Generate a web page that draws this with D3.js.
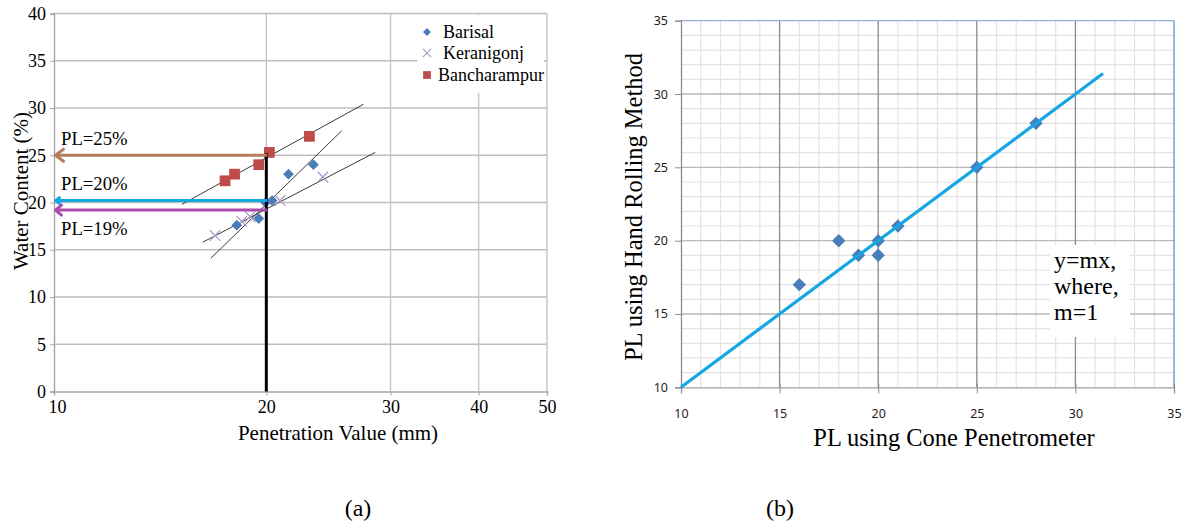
<!DOCTYPE html>
<html><head><meta charset="utf-8">
<script src="https://cdn.jsdelivr.net/npm/d3@7"></script>
<style>body{margin:0;background:#fff}svg{display:block}</style>
</head><body>
<svg id="c" width="1187" height="524"></svg>
<script>
// ---------- Data: chart (a) ----------
const xTicksA = [10, 20, 30, 40, 50];
const yTicksA = [0, 5, 10, 15, 20, 25, 30, 35, 40];
const barisal = [[18.16,17.6],[19.51,18.3],[19.95,20.0],[20.38,20.2],[21.5,23.0],[23.32,24.0]];
const keranigonj = [[16.92,16.5],[18.46,18.0],[18.97,18.5],[20.92,20.2],[24.05,22.7]];
const bancharampur = [[17.48,22.3],[18.03,23.0],[19.51,24.0],[20.2,25.3],[23.02,27.0]];
const trendBancharampur = [[15.18,19.8],[27.46,30.4]];
const trendBarisal = [[16.69,14.1],[25.59,27.6]];
const trendKeranigonj = [[16.25,15.8],[28.53,25.3]];
const plLines = [{label:"PL=25%", pl:25.0}, {label:"PL=20%", pl:20.2}, {label:"PL=19%", pl:19.2}];
const plCone = 20;
const legendNames = ["Barisal","Keranigonj","Bancharampur"];
// ---------- Data: chart (b) ----------
const ticksB = [10, 15, 20, 25, 30, 35];
const coneVals = [16, 18, 19, 20, 20, 21, 25, 28];
const handVals = [17, 20, 19, 20, 19, 21, 25, 28];
const fitLine = [10, 31.4];
const noteLines = ["y=mx,", "where,", "m=1"];

const svg = d3.select("#c");
const serif = "'Liberation Serif','Times New Roman',serif";
const sans = "'Noto Sans','DejaVu Sans',sans-serif";

// ================= Chart (a) =================
const xA = d3.scaleLog().domain([10,50]).range([54,547]);
const yA = d3.scaleLinear().domain([0,40]).range([391.5,13.5]);
const gA = svg.append("g");
gA.selectAll(".hg").data(yTicksA.slice(1)).join("line")
  .attr("x1",xA(10)).attr("x2",xA(50)).attr("y1",d=>yA(d)).attr("y2",d=>yA(d))
  .attr("stroke","#bdbdbd").attr("stroke-width",1.4);
gA.selectAll(".vg").data(xTicksA.slice(1)).join("line")
  .attr("x1",d=>xA(d)).attr("x2",d=>xA(d)).attr("y1",yA(0)).attr("y2",yA(40))
  .attr("stroke","#c4c4c4").attr("stroke-width",1.4);
const axL = gA.append("g").attr("transform",`translate(${xA(10)},0)`)
  .call(d3.axisLeft(yA).tickValues(yTicksA).tickSize(4).tickPadding(4));
axL.select(".domain").attr("stroke","#a6a6a6").attr("stroke-width",1.4);
axL.selectAll(".tick line").attr("stroke","#a6a6a6");
axL.selectAll("text").attr("font-family",serif).attr("font-size",18).attr("fill","#000");
const axB = gA.append("g").attr("transform",`translate(0,${yA(0)})`)
  .call(d3.axisBottom(xA).tickValues(xTicksA).tickFormat(d3.format("d")).tickSize(4).tickPadding(5));
axB.select(".domain").attr("stroke","#a6a6a6").attr("stroke-width",1.4);
axB.selectAll(".tick line").attr("stroke","#a6a6a6");
axB.selectAll("text").attr("font-family",serif).attr("font-size",18).attr("fill","#000");
axB.selectAll(".tick text").filter(d=>d===10).attr("dx",3);
// legend background
gA.append("rect").attr("x",417).attr("y",15).attr("width",127).attr("height",78).attr("fill","#fff");
// trend lines
const lineA = d3.line().x(d=>xA(d[0])).y(d=>yA(d[1]));
[trendBancharampur, trendBarisal, trendKeranigonj].forEach(t=>{
  gA.append("path").attr("d",lineA(t)).attr("fill","none").attr("stroke","#222").attr("stroke-width",0.9);
});
// markers
const blue = "#4a7ebb", red = "#be4b48", purple = "#a99bc9";
const diamond = d3.symbol().type(d3.symbolDiamond2).size(75);
const square = d3.symbol().type(d3.symbolSquare).size(115);
const cross = d3.symbol().type(d3.symbolTimes).size(75);
gA.selectAll(".km").data(keranigonj).join("path")
  .attr("d",cross()).attr("transform",d=>`translate(${xA(d[0])},${yA(d[1])})`)
  .attr("fill","none").attr("stroke",purple).attr("stroke-width",1.3);
gA.selectAll(".bm").data(barisal).join("path")
  .attr("d",diamond()).attr("transform",d=>`translate(${xA(d[0])},${yA(d[1])})`).attr("fill",blue);
gA.selectAll(".sm").data(bancharampur).join("path")
  .attr("d",square()).attr("transform",d=>`translate(${xA(d[0])},${yA(d[1])})`).attr("fill",red);
// vertical black line at PL cone value
gA.append("line").attr("x1",xA(plCone)).attr("x2",xA(plCone)).attr("y1",yA(0)).attr("y2",yA(plLines[0].pl)-2)
  .attr("stroke","#000").attr("stroke-width",3);
// PL arrows
const plColors = ["#b67d5c","#12a8e6","#a94aac"];
const headSize = [[8,6],[4,3],[6,5]];
plLines.forEach((p,i)=>{
  const y = yA(p.pl), x0 = xA(10)+1.5;
  gA.append("line").attr("x1",xA(plCone)+1).attr("x2",x0+1).attr("y1",y).attr("y2",y)
    .attr("stroke",plColors[i]).attr("stroke-width",3);
  const [w,h] = headSize[i];
  gA.append("path").attr("d",`M${x0+w},${y-h} L${x0},${y} L${x0+w},${y+h}`)
    .attr("fill","none").attr("stroke",plColors[i]).attr("stroke-width",3).attr("stroke-linejoin","round").attr("stroke-linecap","round");
});
const plLabelY = [145, 190, 235];
plLines.forEach((p,i)=>{
  gA.append("text").attr("x",61).attr("y",plLabelY[i]).text(p.label)
    .attr("font-family",serif).attr("font-size",18.7).attr("fill","#000");
});
// legend
const legY = [32, 53, 75];
legendNames.forEach((n,i)=>{
  const s = gA.append("path").attr("transform",`translate(427,${legY[i]})`);
  if(i===0) s.attr("d",d3.symbol().type(d3.symbolDiamond2).size(40)()).attr("fill",blue);
  if(i===1) s.attr("d",d3.symbol().type(d3.symbolTimes).size(45)()).attr("fill","none").attr("stroke",purple).attr("stroke-width",1.2);
  if(i===2) s.attr("d",d3.symbol().type(d3.symbolSquare).size(60)()).attr("fill",red);
  gA.append("text").attr("x", i===2?438:443).attr("y",legY[i]+6).text(n)
    .attr("font-family",serif).attr("font-size",18).attr("fill","#000");
});
// titles
gA.append("text").attr("x",338).attr("y",440).attr("text-anchor","middle").text("Penetration Value (mm)")
  .attr("font-family",serif).attr("font-size",21).attr("fill","#000");
gA.append("text").attr("transform","translate(28,191) rotate(-90)").attr("text-anchor","middle")
  .text("Water Content (%)").attr("font-family",serif).attr("font-size",21).attr("fill","#000");
svg.append("text").attr("x",358).attr("y",516).attr("text-anchor","middle").text("(a)")
  .attr("font-family",serif).attr("font-size",24).attr("fill","#000");

// ================= Chart (b) =================
const xB = d3.scaleLinear().domain([10,35]).range([681,1174]);
const yB = d3.scaleLinear().domain([10,35]).range([387.3,20.7]);
const gB = svg.append("g");
const minor = d3.range(10,36,1).filter(v=>v%5!==0);
gB.selectAll(".mv").data(minor).join("line")
  .attr("x1",d=>xB(d)).attr("x2",d=>xB(d)).attr("y1",yB(10)).attr("y2",yB(35))
  .attr("stroke","#e3e3e3").attr("stroke-width",1.2);
gB.selectAll(".mh").data(minor).join("line")
  .attr("x1",xB(10)).attr("x2",xB(35)).attr("y1",d=>yB(d)).attr("y2",d=>yB(d))
  .attr("stroke","#e3e3e3").attr("stroke-width",1.2);
gB.selectAll(".Mh").data(ticksB.slice(1,-1)).join("line")
  .attr("x1",xB(10)).attr("x2",xB(35)).attr("y1",d=>yB(d)).attr("y2",d=>yB(d))
  .attr("stroke","#b9b9b9").attr("stroke-width",1.4);
gB.selectAll(".Mv").data(ticksB.slice(1,-1)).join("line")
  .attr("x1",d=>xB(d)).attr("x2",d=>xB(d)).attr("y1",yB(10)).attr("y2",yB(35))
  .attr("stroke","#8c8c8c").attr("stroke-width",1.3);
gB.append("line").attr("x1",xB(10)).attr("x2",xB(35)).attr("y1",yB(35)).attr("y2",yB(35)).attr("stroke","#8fb0d8").attr("stroke-width",1.3);
gB.append("line").attr("x1",xB(35)).attr("x2",xB(35)).attr("y1",yB(10)).attr("y2",yB(35)).attr("stroke","#5b8fd0").attr("stroke-width",1.3);
const axBL = gB.append("g").attr("transform",`translate(${xB(10)},0)`)
  .call(d3.axisLeft(yB).tickValues(ticksB).tickSize(6).tickPadding(7));
axBL.select(".domain").attr("stroke","#8c8c8c").attr("stroke-width",1.3);
axBL.selectAll(".tick line").attr("stroke","#8c8c8c");
axBL.selectAll("text").attr("font-family",sans).attr("font-size",12.5).attr("fill","#2a1a1a");
const axBB = gB.append("g").attr("transform",`translate(0,${yB(10)})`)
  .call(d3.axisBottom(xB).tickValues(ticksB).tickSize(6).tickPadding(16));
axBB.select(".domain").attr("stroke","#a0a0a0").attr("stroke-width",1.3);
axBB.selectAll(".tick line").attr("stroke","#8c8c8c").attr("y1",-4);
axBB.selectAll("text").attr("font-family",sans).attr("font-size",12.5).attr("fill","#2a1a1a");
// text box
gB.append("rect").attr("x",1050).attr("y",245).attr("width",80).attr("height",92).attr("fill","#fff");
noteLines.forEach((t,i)=>{
  gB.append("text").attr("x",1054).attr("y",268+i*26).text(t)
    .attr("font-family",serif).attr("font-size",24).attr("fill","#000");
});
// points
gB.selectAll(".pb").data(coneVals.map((c,i)=>[c,handVals[i]])).join("path")
  .attr("d",d3.symbol().type(d3.symbolDiamond2).size(115)())
  .attr("transform",d=>`translate(${xB(d[0])},${yB(d[1])})`).attr("fill",blue);
// fit line
gB.append("line").attr("x1",xB(fitLine[0])).attr("y1",yB(fitLine[0])).attr("x2",xB(fitLine[1])).attr("y2",yB(fitLine[1]))
  .attr("stroke","#16a6e3").attr("stroke-width",3.2);
// titles
gB.append("text").attr("x",954).attr("y",446).attr("text-anchor","middle").text("PL using Cone Penetrometer")
  .attr("font-family",serif).attr("font-size",24.5).attr("fill","#000");
gB.append("text").attr("transform","translate(642,207) rotate(-90)").attr("text-anchor","middle")
  .text("PL using Hand Rolling Method").attr("font-family",serif).attr("font-size",24.5).attr("fill","#000");
svg.append("text").attr("x",780).attr("y",516).attr("text-anchor","middle").text("(b)")
  .attr("font-family",serif).attr("font-size",24).attr("fill","#000");
</script>
</body></html>
